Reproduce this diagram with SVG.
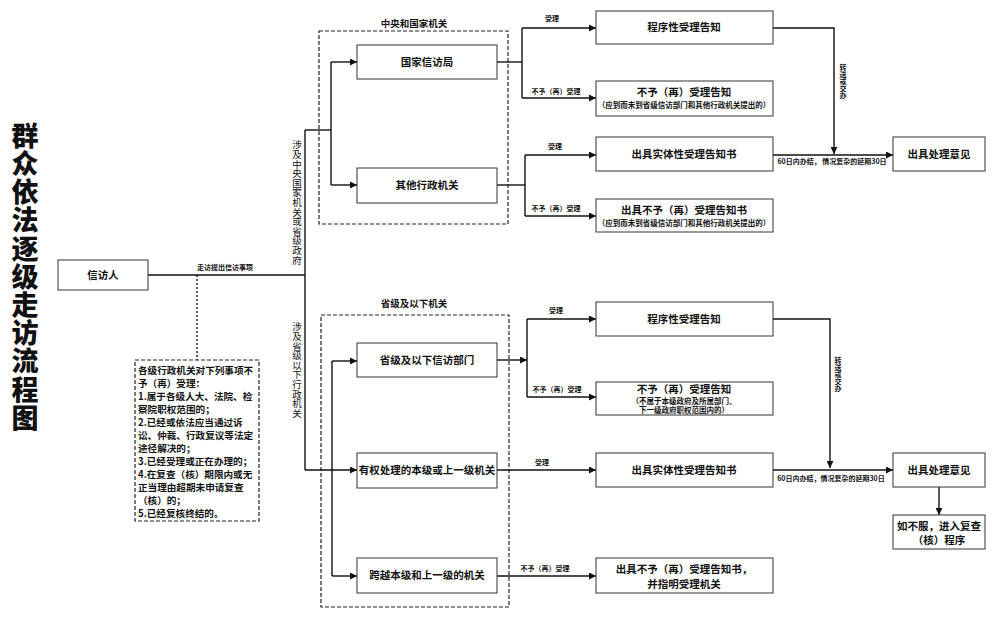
<svg xmlns="http://www.w3.org/2000/svg" width="1000" height="618" viewBox="0 0 1000 618">
<style>
text{font-family:"Noto Sans CJK SC","Noto Sans",sans-serif;fill:#111;text-anchor:middle}
.box{fill:#fff;stroke:#333;stroke-width:1}
.dash{fill:none;stroke:#222;stroke-width:1.2;stroke-dasharray:4,2}
.ln{fill:none;stroke:#111;stroke-width:1.4}
.t{font-size:10.5px;font-weight:bold}
.s{font-size:7.5px;font-weight:bold}
.l{font-size:7px;font-weight:bold}
.vt{writing-mode:vertical-rl;text-anchor:start}
.v{font-size:9.5px;letter-spacing:0.1px}
</style>
<defs>
<marker id="ar" viewBox="0 0 10 10" refX="10" refY="5" markerWidth="7" markerHeight="7" markerUnits="userSpaceOnUse" orient="auto"><path d="M0,0L10,5L0,10z" fill="#111"/></marker>
</defs>
<rect width="1000" height="618" fill="#fff"/>

<g id="title">
<text class="vt" x="25" y="122" style="font-size:27px;font-weight:900;letter-spacing:1.2px">群众依法逐级走访流程图</text>
</g>

<g id="groups">
<rect class="dash" x="319" y="31" width="189" height="193"/>
<text class="t" x="414" y="27" style="font-size:9.5px">中央和国家机关</text>
<rect class="dash" x="321" y="315" width="188" height="292"/>
<text class="t" x="414" y="307" style="font-size:9.5px">省级及以下机关</text>
</g>

<g id="connectors">
<path class="ln" d="M148,275H305"/>
<text class="l" x="225" y="270">走访提出信访事项</text>
<path class="ln" d="M197,275V360" style="stroke-dasharray:2,2"/>
<path class="ln" d="M305,130V470"/>
<path class="ln" d="M305,130H331"/>
<path class="ln" d="M331,62V185"/>
<path class="ln" d="M331,62H357" marker-end="url(#ar)"/>
<path class="ln" d="M331,185H357" marker-end="url(#ar)"/>
<path class="ln" d="M305,470H357" marker-end="url(#ar)"/>
<path class="ln" d="M332,361V576"/>
<path class="ln" d="M332,361H357" marker-end="url(#ar)"/>
<path class="ln" d="M332,576H357" marker-end="url(#ar)"/>
<path class="ln" d="M497,62H522"/>
<path class="ln" d="M522,28V98"/>
<path class="ln" d="M522,28H596" marker-end="url(#ar)"/>
<path class="ln" d="M522,98H596" marker-end="url(#ar)"/>
<text class="l" x="552" y="21">受理</text>
<text class="l" x="556" y="94">不予（再）受理</text>
<path class="ln" d="M497,185H525"/>
<path class="ln" d="M525,155V216"/>
<path class="ln" d="M525,155H596" marker-end="url(#ar)"/>
<path class="ln" d="M525,216H596" marker-end="url(#ar)"/>
<text class="l" x="555" y="149">受理</text>
<text class="l" x="556" y="211">不予（再）受理</text>
<path class="ln" d="M773,28H834V154" marker-end="url(#ar)"/>
<text class="l vt" x="843" y="64">转送或交办</text>
<path class="ln" d="M773,155H893" marker-end="url(#ar)"/>
<text class="l" x="832" y="164">60日内办结，  情况复杂的延期30日</text>
<path class="ln" d="M497,360H527" marker-end="url(#ar)"/>
<path class="ln" d="M527,319V397"/>
<path class="ln" d="M527,319H596" marker-end="url(#ar)"/>
<path class="ln" d="M527,397H596" marker-end="url(#ar)"/>
<text class="l" x="556" y="313">受理</text>
<text class="l" x="557" y="392">不予（再）受理</text>
<path class="ln" d="M497,470H596" marker-end="url(#ar)"/>
<text class="l" x="542" y="465">受理</text>
<path class="ln" d="M497,576H596" marker-end="url(#ar)"/>
<text class="l" x="545" y="571">不予（再）受理</text>
<path class="ln" d="M773,319H830V468" marker-end="url(#ar)"/>
<text class="l vt" x="838" y="357">转送或交办</text>
<path class="ln" d="M773,470H893" marker-end="url(#ar)"/>
<text class="l" x="831" y="481">60日内办结，情况复杂的延期30日</text>
<path class="ln" d="M939,487V515" marker-end="url(#ar)"/>
<text class="v vt" x="297" y="140">涉及中央国家机关或省级政府</text>
<text class="v vt" x="297" y="322">涉及省级以下行政机关</text>
</g>

<g id="petitioner"><rect class="box" x="58" y="260" width="90" height="30"/><text class="t" x="103" y="279">信访人</text></g>

<g id="exclusions">
<rect class="dash" x="135" y="360" width="124" height="161"/>
<text style="font-size:9.6px;font-weight:bold;text-anchor:start">
<tspan x="138" y="374">各级行政机关对下列事项不</tspan>
<tspan x="138" y="387">予（再）受理：</tspan>
<tspan x="138" y="400">1.属于各级人大、法院、检</tspan>
<tspan x="138" y="413">察院职权范围的；</tspan>
<tspan x="138" y="426">2.已经或依法应当通过诉</tspan>
<tspan x="138" y="439">讼、仲裁、行政复议等法定</tspan>
<tspan x="138" y="452">途径解决的；</tspan>
<tspan x="138" y="465">3.已经受理或正在办理的；</tspan>
<tspan x="138" y="478">4.在复查（核）期限内或无</tspan>
<tspan x="138" y="491">正当理由超期未申请复查</tspan>
<tspan x="138" y="504">（核）的；</tspan>
<tspan x="138" y="517">5.已经复核终结的。</tspan>
</text>
</g>

<g id="n1"><rect class="box" x="357" y="45" width="140" height="34"/><text class="t" x="427" y="66">国家信访局</text></g>
<g id="n2"><rect class="box" x="357" y="168" width="140" height="35"/><text class="t" x="427" y="189">其他行政机关</text></g>
<g id="n3"><rect class="box" x="357" y="343" width="140" height="34"/><text class="t" x="427" y="364">省级及以下信访部门</text></g>
<g id="n4"><rect class="box" x="357" y="453" width="140" height="35"/><text class="t" x="427" y="474">有权处理的本级或上一级机关</text></g>
<g id="n5"><rect class="box" x="357" y="558" width="140" height="35"/><text class="t" x="427" y="579">跨越本级和上一级的机关</text></g>

<g id="r1"><rect class="box" x="596" y="11" width="177" height="33"/><text class="t" x="684" y="31">程序性受理告知</text></g>
<g id="r2"><rect class="box" x="596" y="81" width="177" height="35"/><text class="t" x="684" y="96">不予（再）受理告知</text><text class="s" x="684" y="108">（应到而未到省级信访部门和其他行政机关提出的）</text></g>
<g id="r3"><rect class="box" x="596" y="137" width="177" height="34"/><text class="t" x="684" y="158">出具实体性受理告知书</text></g>
<g id="r4"><rect class="box" x="596" y="199" width="177" height="33"/><text class="t" x="684" y="214">出具不予（再）受理告知书</text><text class="s" x="684" y="226">（应到而未到省级信访部门和其他行政机关提出的）</text></g>
<g id="r5"><rect class="box" x="596" y="302" width="177" height="34"/><text class="t" x="684" y="323">程序性受理告知</text></g>
<g id="r6"><rect class="box" x="596" y="382" width="177" height="33"/><text class="t" x="684" y="393">不予（再）受理告知</text><text class="s" x="684" y="404">（不属于本级政府及所属部门、</text><text class="s" x="684" y="413">下一级政府职权范围内的）</text></g>
<g id="r7"><rect class="box" x="596" y="453" width="177" height="34"/><text class="t" x="684" y="474">出具实体性受理告知书</text></g>
<g id="r8"><rect class="box" x="596" y="558" width="177" height="35"/><text class="t" x="684" y="573">出具不予（再）受理告知书，</text><text class="t" x="684" y="588">并指明受理机关</text></g>

<g id="o1"><rect class="box" x="893" y="137" width="92" height="34"/><text class="t" x="939" y="158">出具处理意见</text></g>
<g id="o2"><rect class="box" x="893" y="453" width="92" height="34"/><text class="t" x="939" y="474">出具处理意见</text></g>
<g id="o3"><rect class="box" x="893" y="515" width="92" height="34"/><text class="t" x="939" y="530">如不服，进入复查</text><text class="t" x="939" y="544">（核）程序</text></g>
</svg>
